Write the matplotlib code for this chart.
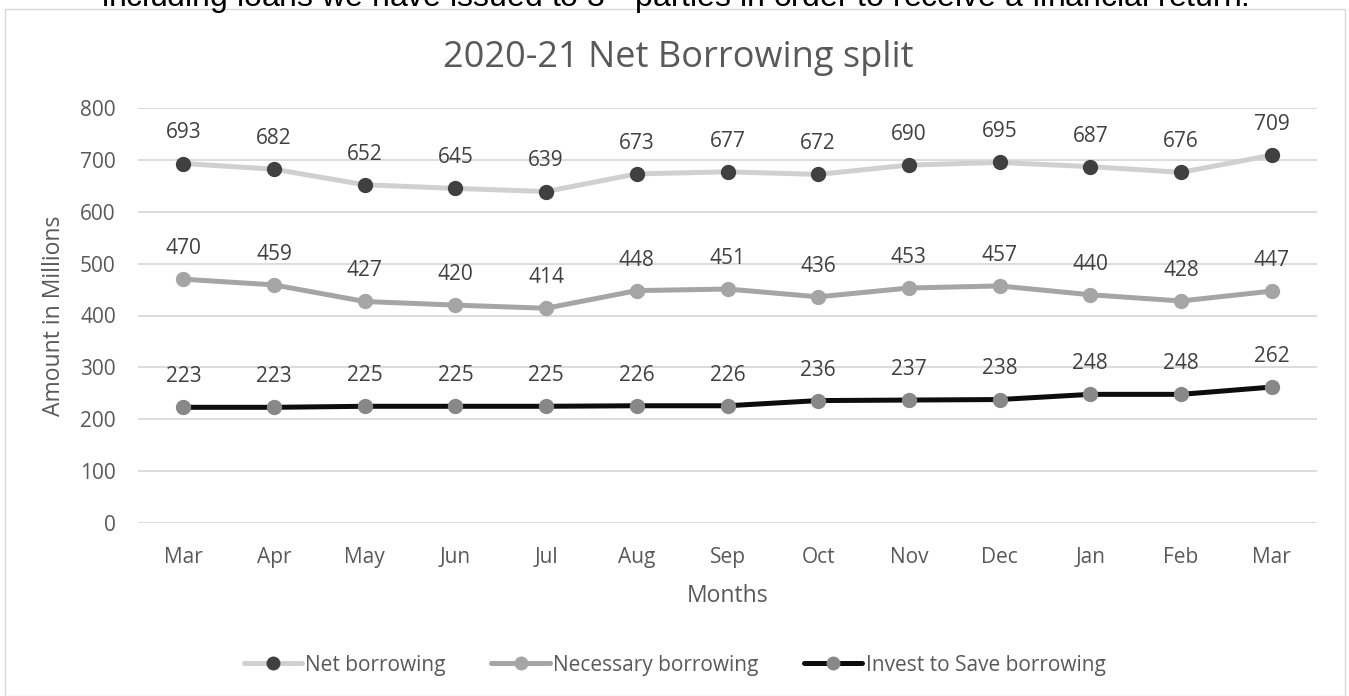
import matplotlib
matplotlib.use("Agg")
import matplotlib.pyplot as plt
from matplotlib.patches import Rectangle

plt.rcParams.update({
    "font.family": "Open Sans",
    "mathtext.fontset": "custom",
    "mathtext.rm": "Liberation Sans",
})

months = ["Mar", "Apr", "May", "Jun", "Jul", "Aug", "Sep", "Oct", "Nov", "Dec", "Jan", "Feb", "Mar"]
net_borrowing = [693, 682, 652, 645, 639, 673, 677, 672, 690, 695, 687, 676, 709]
necessary_borrowing = [470, 459, 427, 420, 414, 448, 451, 436, 453, 457, 440, 428, 447]
invest_to_save = [223, 223, 225, 225, 225, 226, 226, 236, 237, 238, 248, 248, 262]

TXT = "#595959"
LBL = "#404040"

W, H = 1349, 696
fig = plt.figure(figsize=(W / 100, H / 100), dpi=100)

# chart frame (Excel chart area border)
fig.patches.append(Rectangle((5 / W, 0), 1340 / W, 1 - 9 / H, transform=fig.transFigure,
                             fill=False, edgecolor="#D9D9D9", linewidth=1.0))

# clipped document text above the chart
fig.text(0.5, 1 - 6.5 / H, r"including loans we have issued to 3$^{\mathrm{rd}}$ parties in order to receive a financial return.",
         ha="center", va="baseline", fontsize=23, family="Liberation Sans", color="black")

# chart title, centred on the chart area
fig.text(678 / W, 1 - 58 / H, "2020-21 Net Borrowing split", ha="center", va="center",
         fontsize=26, color=TXT)

ax = fig.add_axes([138 / W, 1 - 523 / H, 1179 / W, 415 / H])

x = list(range(len(months)))
series = [
    (net_borrowing, "Net borrowing", "#D0D0D0", "#404040"),
    (necessary_borrowing, "Necessary borrowing", "#A5A5A5", "#A5A5A5"),
    (invest_to_save, "Invest to Save borrowing", "#0D0D0D", "#888888"),
]
for vals, name, lc, mc in series:
    ax.plot(x, vals, color=lc, linewidth=3.6, marker="o", markersize=10,
            markerfacecolor=mc, markeredgecolor=mc, label=name, zorder=3,
            solid_capstyle="round")
    for xi, v in zip(x, vals):
        ax.annotate(str(v), (xi, v), xytext=(0, 22), textcoords="offset points",
                    ha="center", va="center", fontsize=15, color=LBL)

ax.set_xlim(-0.5, len(months) - 0.5)
ax.set_ylim(0, 800)
ax.set_yticks(range(0, 801, 100))
ax.set_xticks(x)
ax.set_xticklabels(months)
ax.grid(axis="y", color="#D9D9D9", linewidth=1.3)
ax.set_axisbelow(True)
for s in ax.spines.values():
    s.set_visible(False)
ax.tick_params(axis="both", length=0, labelsize=15, labelcolor=TXT)
ax.tick_params(axis="y", pad=16)
ax.tick_params(axis="x", pad=17)

ax.set_xlabel("Months", fontsize=16.5, color=TXT, labelpad=12)
ax.set_ylabel("Amount in Millions", fontsize=16.5, color=TXT, labelpad=10)

ax.legend(loc="center", bbox_to_anchor=(0.5, 1 - 665 / H), bbox_transform=fig.transFigure,
          ncol=3, frameon=False, fontsize=15, handlelength=2.8, handletextpad=0.15,
          columnspacing=2.2, labelcolor=TXT, markerscale=0.9)

fig.savefig("out.png", dpi=100)
